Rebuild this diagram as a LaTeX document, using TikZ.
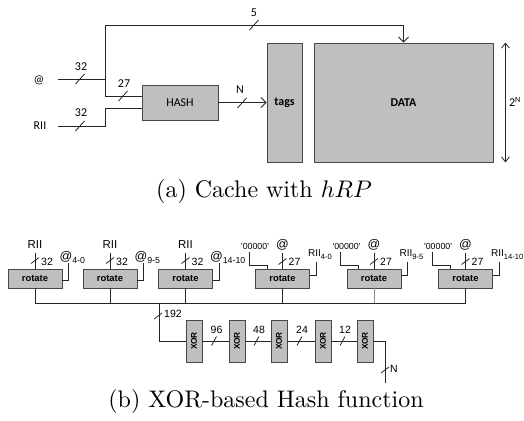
\documentclass[tikz,border=0pt]{standalone}
\usepackage{fontspec}
\newfontfamily\calfont{Carlito}
\newfontfamily\arfont{Liberation Sans}
\usetikzlibrary{arrows.meta,calc}

\tikzset{
  wire/.style={line width=0.8pt, draw=black!85},
  blk/.style={draw=black!72, fill=black!25, line width=0.9pt, inner sep=0pt},
  hwbox/.style={blk, font=\calfont\fontsize{12}{14}\selectfont},
  rotbox/.style={blk, minimum width=54pt, minimum height=19pt,
    font=\arfont\bfseries\fontsize{9.4}{11}\selectfont},
  xorbox/.style={blk, minimum width=16pt, minimum height=42pt},
  clbl/.style={font=\calfont\fontsize{12}{14}\selectfont, inner sep=0pt},
  albl/.style={font=\arfont\fontsize{10.5}{12}\selectfont, inner sep=0pt},
  qlbl/.style={font=\arfont\fontsize{8.8}{10}\selectfont, inner sep=0pt},
  barb/.style={-{Straight Barb[length=5pt,width=10pt,line width=0.8pt]}},
  dbarb/.style={{Straight Barb[length=5pt,width=8pt,line width=0.8pt]}-{Straight Barb[length=5pt,width=8pt,line width=0.8pt]}},
  capt/.style={scale=2.4, font=\fontsize{10}{12}\selectfont, inner sep=0pt}
}
% bus-width tick marks
\newcommand\tickA[1]{\draw[wire] ($(#1)+(-4.5,5)$) -- ($(#1)+(4.5,-5)$);}
\newcommand\tickB[1]{\draw[wire] ($(#1)+(-4,3)$) -- ($(#1)+(4,-3)$);}
\newcommand\tickC[1]{\draw[wire] ($(#1)+(-2.5,4.5)$) -- ($(#1)+(2.5,-4.5)$);}

\begin{document}
\begin{tikzpicture}[x=1pt,y=-1pt]
\useasboundingbox (0,0) rectangle (524,420);

% ---------------- (a) cache with hashed index ----------------
\node[hwbox, minimum width=76pt, minimum height=35pt] (hash) at (180,102.5) {HASH};
\node[hwbox, minimum width=35pt, minimum height=119pt, font=\calfont\bfseries\fontsize{12}{14}\selectfont] (tags) at (284.5,102.5) {tags};
\node[hwbox, minimum width=179pt, minimum height=119pt, font=\calfont\bfseries\fontsize{12}{14}\selectfont] (data) at (403.5,102.5) {DATA};

\node[clbl] (at) at (39,80) {@};
\node[clbl] (rii) at (40,126) {RII};
\coordinate (atin) at (58,79);
\coordinate (riin) at (58,126);
\coordinate (j) at (105,79);
\coordinate (topy) at (0,25);

\draw[wire] (atin) -- (j);
\draw[wire, barb] (j) |- (data.north |- topy) -- (data.north);
\draw[wire] (j) |- ($(hash.west)+(0,-6.5)$);
\draw[wire] (riin) -| (105,108) -- ($(hash.west)+(0,5.5)$);
\draw[wire, barb] (hash.east) -- (tags.west);
\draw[wire, dbarb] ($(data.north east)+(12,0)$) -- ($(data.south east)+(12,0)$);

\tickA{80,79}   \node[clbl] at (81,67) {32};
\tickA{123,96}  \node[clbl] at (124,84) {27};
\tickA{80,126}  \node[clbl] at (81,113) {32};
\tickA{242,103} \node[clbl] at (240,90) {N};
\tickA{254,25}  \node[clbl] at (254,13) {5};
\node[clbl] at (515,102) {2\textsuperscript{N}};

\node[capt] (capa) at (264,191) {(a) Cache with $hRP$};

% ---------------- (b) XOR-based hash ----------------
\node[rotbox] (r1) at (35,278.5) {rotate};
\node[rotbox] (r2) at (110,278.5) {rotate};
\node[rotbox] (r3) at (185.5,278.5) {rotate};
\node[rotbox] (r4) at (282.5,278.5) {rotate};
\node[rotbox] (r5) at (374,278.5) {rotate};
\node[rotbox] (r6) at (465.5,278.5) {rotate};

% rotate inputs: RII plus address slice
\foreach \b/\s in {r1/4-0, r2/9-5, r3/14-10}{
  \node[albl, font=\arfont\fontsize{11.5}{13}\selectfont] at ($(\b.north)+(0,-24)$) {RII};
  \draw[wire] ($(\b.north)+(0,-16)$) -- (\b.north);
  \tickB{$(\b.north)+(0,-8)$}
  \node[albl, anchor=west] at ($(\b.north)+(6,-7)$) {32};
  \node[inner sep=0pt, anchor=west] at ($(\b.north east)+(-3,-11)$)
    {\arfont\fontsize{12.5}{13}\selectfont @\raisebox{-2.5pt}{\fontsize{8.8}{9}\selectfont\s}};
  \draw[wire] ($(\b.east)+(0,1.5)$) -- ++(6,0) -- ++(0,-17);
}
% rotate inputs: padded address plus RII slice
\foreach \b/\s in {r4/4-0, r5/9-5, r6/14-10}{
  \node[qlbl] at ($(\b.north west)+(0,-22)$) {'00000'};
  \draw[wire] ($(\b.north west)+(-6,-17)$) -- ++(0,14) -- ++(18,0) -- ++(0,3);
  \node[inner sep=0pt] at ($(\b.north)+(0,-24)$) {\arfont\fontsize{12.5}{13}\selectfont @};
  \draw[wire] ($(\b.north)+(0,-16)$) -- (\b.north);
  \tickB{$(\b.north)+(0,-7)$}
  \node[albl, anchor=west] at ($(\b.north)+(6,-7)$) {27};
  \node[inner sep=0pt, anchor=west] at ($(\b.north east)+(-2,-14)$)
    {\arfont\fontsize{10}{12}\selectfont RII\raisebox{-2.5pt}{\fontsize{7.6}{9}\selectfont\s}};
  \draw[wire] ($(\b.east)+(0,-3.5)$) -- ++(6,0) -- ++(0,-13);
}

% collecting bus
\coordinate (busy) at (0,303);
\draw[wire] (r1.south) |- (r6.south |- busy) -- (r6.south);
\foreach \b in {r2,r3,r4}{ \draw[wire] (\b.south) -- (\b.south |- busy); }
\draw[wire, draw=black!45] (r5.south) -- (r5.south |- busy);

% XOR reduction chain
\foreach \i/\x in {1/194, 2/237, 3/279, 4/323, 5/365}{
  \node[xorbox] (x\i) at (\x,341) {};
  \node[rotate=90, inner sep=0pt, font=\arfont\bfseries\fontsize{8.3}{10}\selectfont] at (x\i) {XOR};
}
\coordinate (tap) at (159,303);
\draw[wire] (tap) |- (x1.west);
\tickB{158,316}
\node[albl, anchor=west] at (164,314) {192};

\foreach \a/\b/\w in {x1/x2/96, x2/x3/48, x3/x4/24, x4/x5/12}{
  \draw[wire] (\a.east) -- (\b.west);
  \tickC{$($(\a.east)!0.5!(\b.west)$)+(-1.5,0)$}
  \node[albl] at ($($(\a.east)!0.5!(\b.west)$)+(1,-11)$) {\w};
}
\coordinate (nout) at (385,383);
\draw[wire] (x5.east) -| (nout);
\tickB{385,370}
\node[albl, anchor=west] at (390,369) {N};

\node[capt] (capb) at (266,401) {(b) XOR-based Hash function};
\end{tikzpicture}
\end{document}
